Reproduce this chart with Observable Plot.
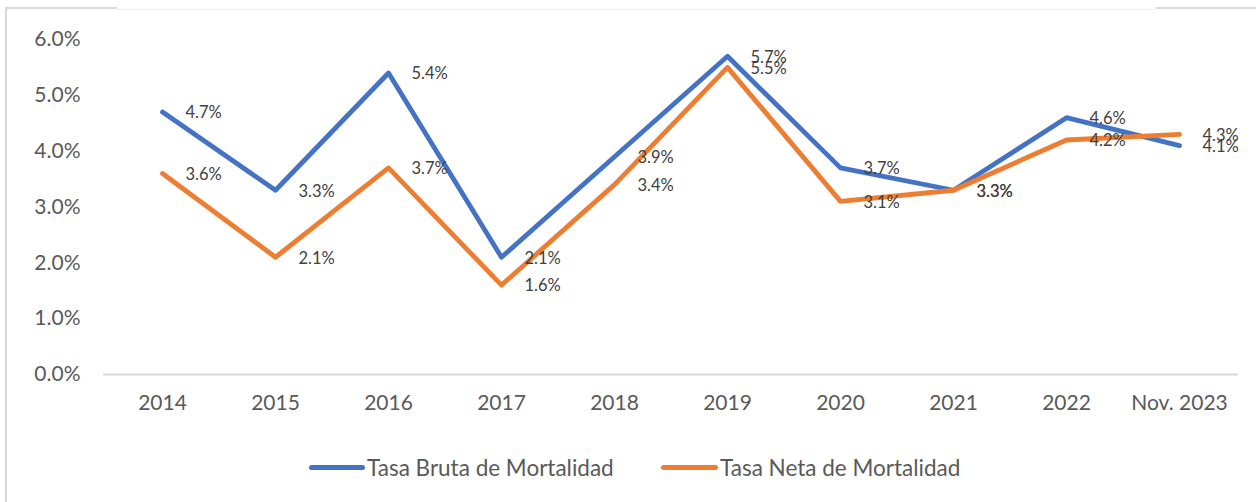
<!DOCTYPE html>
<html><head><meta charset="utf-8">
<script src="https://cdn.jsdelivr.net/npm/d3@7"></script>
<script src="https://cdn.jsdelivr.net/npm/@observablehq/plot@0.6"></script>
<style>
body{margin:0;background:#fff;}
#wrap{position:relative;width:1256px;height:502px;overflow:hidden;background:#fff;font-family:Lato,"Open Sans",sans-serif;}
#wrap svg{position:absolute;left:0;top:0;}
.bl{position:absolute;background:#d9d9d9;}
.leg{position:absolute;top:454px;height:26px;display:flex;align-items:center;font-size:22.5px;color:#595959;white-space:nowrap;}
.sw{display:inline-block;height:5px;border-radius:3px;margin-right:2px;}
</style></head><body><div id="wrap"></div>
<script>
const periods = ["2014","2015","2016","2017","2018","2019","2020","2021","2022","Nov. 2023"];
const tasaBruta = [4.7,3.3,5.4,2.1,3.9,5.7,3.7,3.3,4.6,4.1];
const tasaNeta  = [3.6,2.1,3.7,1.6,3.4,5.5,3.1,3.3,4.2,4.3];
const seriesNames = ["Tasa Bruta de Mortalidad","Tasa Neta de Mortalidad"];
const seriesColors = ["#4472C4","#ED7D31"];
const yTicks = [0,1,2,3,4,5,6];

const rows = [];
periods.forEach((p,i)=>{
  rows.push({period:p, value:tasaBruta[i], serie:seriesNames[0]});
  rows.push({period:p, value:tasaNeta[i], serie:seriesNames[1]});
});
const fmt = d => d.toFixed(1) + "%";

const chart = Plot.plot({
  width:1256, height:440,
  marginTop:39, marginBottom:66, marginLeft:103, marginRight:18,
  style:{background:"transparent", fontFamily:"Lato, 'Open Sans', sans-serif"},
  x:{type:"point", domain:periods, padding:0.5, label:null},
  y:{domain:[0,6], label:null},
  color:{domain:seriesNames, range:seriesColors},
  marks:[
    Plot.ruleY([0],{stroke:"#d9d9d9", strokeWidth:2}),
    Plot.axisY({ticks:yTicks, tickFormat:fmt, tickSize:0, tickPadding:23, fontSize:21, fill:"#595959", label:null}),
    Plot.axisX({tickSize:0, tickPadding:21, fontSize:21, fill:"#595959", label:null}),
    Plot.line(rows,{x:"period", y:"value", z:"serie", stroke:"serie", strokeWidth:4.8, strokeLinejoin:"round", strokeLinecap:"round"}),
    Plot.text(rows,{x:"period", y:"value", text:d=>fmt(d.value), dx:23, dy:1, textAnchor:"start", fontSize:16.5, fill:"#404040"})
  ]
});
const wrap = document.getElementById("wrap");
wrap.appendChild(chart);

// frame lines
[["5px","7px","2px","495px"],["5px","7px","112px","2px"],["1156px","7px","100px","2px"]].forEach(([l,t,w,h])=>{
  const d=document.createElement("div"); d.className="bl"; Object.assign(d.style,{left:l,top:t,width:w,height:h}); wrap.appendChild(d);
});
const faint=document.createElement("div"); faint.className="bl"; Object.assign(faint.style,{left:"117px",top:"9px",width:"1039px",height:"1px",background:"#f0f0f0"}); wrap.appendChild(faint);

// legend
const legPos=[309,661], swW=[56,57];
seriesNames.forEach((n,i)=>{
  const d=document.createElement("div"); d.className="leg"; d.style.left=legPos[i]+"px";
  d.innerHTML=`<span class="sw" style="width:${swW[i]}px;background:${seriesColors[i]}"></span><span>${n}</span>`;
  wrap.appendChild(d);
});
</script></body></html>
